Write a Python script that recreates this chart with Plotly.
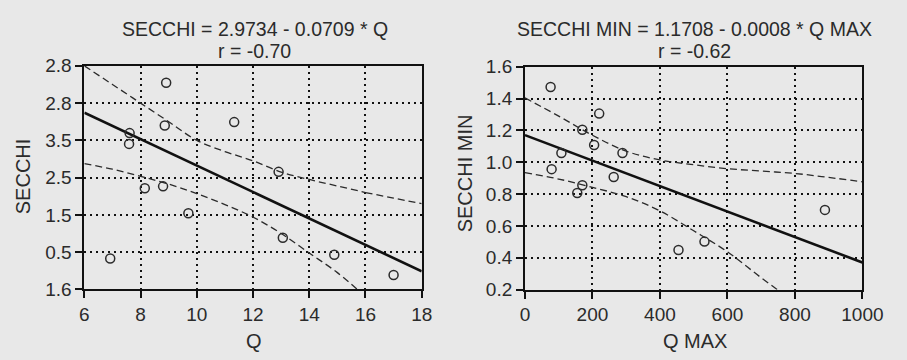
import plotly.graph_objects as go

# ---- Left panel: SECCHI vs Q ----
q = [8.91, 7.61, 7.59, 8.86, 11.33, 12.91, 8.15, 8.80, 9.70, 13.06, 6.92, 14.89, 17.0]
secchi = [2.709, 2.439, 2.381, 2.480, 2.498, 2.231, 2.143, 2.153, 2.009, 1.877, 1.766, 1.786, 1.677]
a_left, b_left = 2.9734, -0.0709
r_left = -0.70
q_band = [6, 7, 8, 9, 10, 11, 12, 13, 14, 15, 16]
q_upper = [2.80, 2.70, 2.60, 2.50, 2.40, 2.34, 2.29, 2.23, 2.19, 2.155, 2.12]
q_band_hi = [16, 17, 18]
q_upper_hi = [2.12, 2.09, 2.06]
q_lower = [2.275, 2.245, 2.207, 2.165, 2.114, 2.055, 1.988, 1.90, 1.795, 1.69, 1.56]
q_ticks = [6, 8, 10, 12, 14, 16, 18]
secchi_tickvals = [1.6, 1.8, 2.0, 2.2, 2.4, 2.6, 2.8]
secchi_ticktext = ["1.6", "0.5", "1.5", "2.5", "3.5", "2.8", "2.8"]

# ---- Right panel: SECCHI MIN vs Q MAX ----
qmax = [76, 220, 170, 205, 108, 289, 79, 263, 170, 155, 889, 455, 532]
secchi_min = [1.473, 1.306, 1.204, 1.109, 1.058, 1.058, 0.957, 0.908, 0.856, 0.807, 0.701, 0.449, 0.502]
a_right, b_right = 1.1708, -0.0008
r_right = -0.62
qmax_band = [0, 100, 200, 300, 400, 500, 600, 700, 800, 900, 1000]
qmax_upper = [1.405, 1.29, 1.17, 1.07, 1.015, 0.985, 0.96, 0.945, 0.93, 0.905, 0.878]
qmax_lower = [0.935, 0.895, 0.843, 0.784, 0.695, 0.57, 0.438, 0.275, 0.12, -0.04, -0.2]
qmax_ticks = [0, 200, 400, 600, 800, 1000]
secchi_min_ticks = [0.2, 0.4, 0.6, 0.8, 1.0, 1.2, 1.4, 1.6]

INK = "#2b2b2b"
PAPER = "#e8e8e8"
FONT = "Liberation Sans, Arial, sans-serif"

fig = go.Figure()

def dashed(xa, ya, xs, ys):
    fig.add_trace(go.Scatter(x=xs, y=ys, mode="lines", xaxis=xa, yaxis=ya,
                             line=dict(color=INK, width=1.3, dash="7px,4px", shape="spline"),
                             showlegend=False, hoverinfo="skip"))

def add_panel(xa, ya, xs, ys, a, b, xr, bands):
    for bx, by in bands:
        dashed(xa, ya, bx, by)
    fig.add_trace(go.Scatter(x=xr, y=[a + b * v for v in xr], mode="lines", xaxis=xa, yaxis=ya,
                             line=dict(color="#111111", width=2.6),
                             showlegend=False))
    fig.add_trace(go.Scatter(x=xs, y=ys, mode="markers", xaxis=xa, yaxis=ya,
                             marker=dict(symbol="circle-open", size=9, color=INK,
                                         line=dict(width=1.5, color=INK)),
                             showlegend=False, cliponaxis=False))

add_panel("x", "y", q, secchi, a_left, b_left, [6, 18],
          [(q_band, q_upper), (q_band_hi, q_upper_hi), (q_band, q_lower)])
add_panel("x2", "y2", qmax, secchi_min, a_right, b_right, [0, 1000],
          [(qmax_band, qmax_upper), (qmax_band, qmax_lower)])

axis_common = dict(
    showline=True, linecolor="#111111", linewidth=1.8, mirror=True,
    ticks="outside", ticklen=7, tickwidth=1.5, tickcolor="#111111",
    showgrid=True, gridcolor="#111111", gridwidth=1.6, griddash="2px,4px",
    zeroline=False, tickfont=dict(size=19, color=INK, family=FONT),
)

fig.update_layout(
    width=907, height=360,
    margin=dict(l=0, r=0, t=0, b=0),
    paper_bgcolor=PAPER, plot_bgcolor=PAPER,
    font=dict(family=FONT, color=INK, size=19),
    xaxis=dict(domain=[81.7 / 907, 429 / 907], range=[6, 18], tickvals=q_ticks,
               anchor="y", **axis_common),
    yaxis=dict(domain=[(360 - 296.7) / 360, (360 - 59.3) / 360], range=[1.6, 2.8],
               tickvals=secchi_tickvals, ticktext=secchi_ticktext, anchor="x", **axis_common),
    xaxis2=dict(domain=[535.3 / 907, 882.7 / 907], range=[0, 1000], tickvals=qmax_ticks,
                anchor="y2", **axis_common),
    yaxis2=dict(domain=[(360 - 297) / 360, (360 - 60.3) / 360], range=[0.2, 1.6],
                tickvals=secchi_min_ticks, tickformat=".1f", anchor="x2", **axis_common),
)

def label(text, x, y, angle=0, size=20):
    fig.add_annotation(text=text, x=x / 907, y=1 - y / 360, xref="paper", yref="paper",
                       showarrow=False, textangle=angle, xanchor="center", yanchor="middle",
                       font=dict(size=size, color=INK, family=FONT))

label(f"SECCHI = {a_left:.4f} - {abs(b_left):.4f} * Q", 257, 20, size=19.5)
label(f"r = {r_left:.2f}", 257, 44, size=19.5)
label(f"SECCHI MIN = {a_right:.4f} - {abs(b_right):.4f} * Q MAX", 710, 20, size=19.5)
label(f"r = {r_right:.2f}", 710, 44, size=19.5)
label("Q", 256, 352)
label("Q MAX", 710, 352)
label("SECCHI", 18, 176, -90)
label("SECCHI MIN", 473, 173, -90)

fig.write_html("out.html")
